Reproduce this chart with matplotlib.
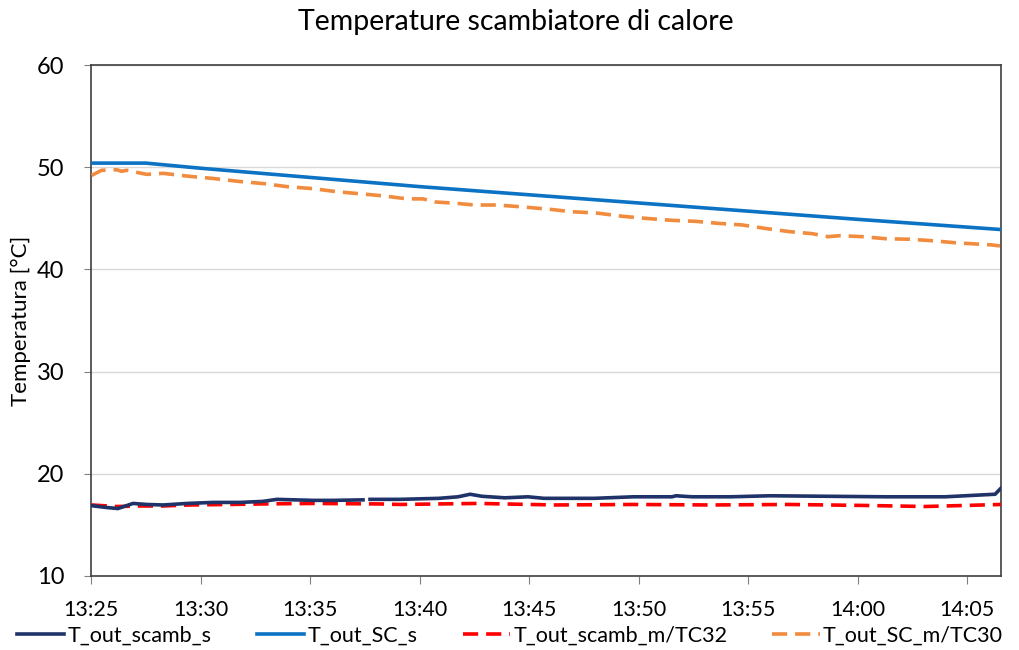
import matplotlib
matplotlib.use("Agg")
import matplotlib.pyplot as plt
import matplotlib.dates as mdates
import numpy as np
import pandas as pd

plt.rcParams['font.family'] = ['Lato', 'DejaVu Sans']

start_time = "2024-01-01 13:25:00"
x_end_min = 41.55

# elapsed minutes from 13:25 and temperatures [°C]
navy_min = [0.03, 0.72, 1.23, 1.92, 2.54, 3.29, 4.38, 5.57, 6.80, 7.85, 8.49, 10.14, 11.05, 12.42,
            12.56,
            12.74, 14.11, 15.89, 16.76, 17.31, 17.85, 18.90, 19.95, 20.68, 22.99, 24.77, 26.53,
            26.71, 27.44, 29.22, 31.0, 33.65, 36.30, 39.0, 41.28, 41.55]
navy_val = [16.88, 16.7, 16.6, 17.1, 17.0, 16.95, 17.1, 17.2, 17.2, 17.3, 17.5, 17.4, 17.4, 17.45,
            np.nan,
            17.5, 17.5, 17.6, 17.75, 18.0, 17.8, 17.65, 17.75, 17.6, 17.6, 17.75, 17.75,
            17.85, 17.75, 17.75, 17.85, 17.8, 17.75, 17.75, 18.0, 18.6]

blue_min = [0.0, 2.5, 5.0, 10.0, 15.0, 20.0, 25.0, 30.0, 35.0, 41.55]
blue_val = [50.4, 50.4, 49.9, 49.0, 48.1, 47.3, 46.5, 45.7, 44.9, 43.9]

red_min = [0.03, 1.17, 2.24, 3.29, 4.52, 6.35, 7.85, 10.14, 13.2, 14.11, 17.67, 21.23, 24.77,
           28.31, 31.87, 33.65, 35.43, 38.08, 39.86, 41.55]
red_val = [16.95, 16.8, 16.85, 16.85, 16.95, 17.0, 17.05, 17.1, 17.05, 17.0, 17.1, 16.95, 17.0,
           16.95, 17.0, 16.95, 16.9, 16.8, 16.9, 17.0]

orange_min = [0.03, 0.49, 1.17, 1.40, 1.63, 2.54, 3.29, 4.52, 5.57, 6.80, 7.85, 8.95, 10.14,
              11.23, 12.28, 13.33, 14.43, 15.16, 15.71, 16.76, 17.49, 18.54, 19.79, 20.87,
              21.92, 23.15, 24.25, 25.30, 26.53, 27.63, 28.68, 29.73, 30.82, 31.87, 32.92,
              33.65, 34.20, 35.25, 36.30, 37.40, 38.45, 39.50, 41.10, 41.5]
orange_val = [49.2, 49.7, 49.75, 49.6, 49.7, 49.3, 49.4, 49.1, 48.9, 48.6, 48.4, 48.1, 47.9,
              47.6, 47.4, 47.2, 46.9, 46.9, 46.6, 46.45, 46.3, 46.3, 46.1, 45.9,
              45.65, 45.5, 45.2, 45.0, 44.8, 44.7, 44.5, 44.35, 44.0, 43.7, 43.5,
              43.2, 43.3, 43.2, 43.0, 42.95, 42.8, 42.6, 42.4, 42.3]

series_names = ["T_out_scamb_s", "T_out_SC_s", "T_out_scamb_m/TC32", "T_out_SC_m/TC30"]
title = "Temperature scambiatore di calore"
ylabel = "Temperatura [°C]"

t0 = pd.Timestamp(start_time)
def to_t(mins):
    return [t0 + pd.Timedelta(minutes=m) for m in mins]

fig = plt.figure(figsize=(10.2, 6.5), dpi=100)
ax = fig.add_axes([91/1020, 74/650, 910/1020, 511/650])

lw = 2.6
ax.plot(to_t(navy_min), navy_val, color='#1F3368', lw=lw, label=series_names[0], zorder=4)
ax.plot(to_t(blue_min), blue_val, color='#0B72C4', lw=lw, label=series_names[1], zorder=4)
ax.plot(to_t(red_min), red_val, color='#FF0000', lw=lw, ls=(0, (4.2, 2.2)), label=series_names[2], zorder=3)
ax.plot(to_t(orange_min), orange_val, color='#F18B3E', lw=lw, ls=(0, (4.2, 2.2)), label=series_names[3], zorder=3)

ax.set_xlim(t0, t0 + pd.Timedelta(minutes=x_end_min))
ax.set_ylim(10, 60)
ax.set_yticks([10, 20, 30, 40, 50, 60])
ax.xaxis.set_major_locator(mdates.MinuteLocator(byminute=range(0, 60, 5)))
ax.xaxis.set_major_formatter(mdates.DateFormatter('%H:%M'))

ax.grid(axis='y', color='#D9D9D9', lw=1)
ax.set_axisbelow(True)
for s in ax.spines.values():
    s.set_color('#404040')
    s.set_linewidth(1.2)

ax.tick_params(axis='x', direction='out', length=6, color='#808080', pad=11, labelsize=15.5)
ax.tick_params(axis='y', direction='out', length=5, color='#808080', pad=14, labelsize=17)

fig.text(516/1020, 1 - 22/650, title, fontsize=20.5, ha='center', va='center')
ax.set_ylabel(ylabel, fontsize=16, labelpad=4)

fig.legend(loc='center', bbox_to_anchor=(0.5, 14/650), ncol=4, frameon=False,
           fontsize=15.5, handlelength=2.2, handletextpad=0.15, columnspacing=2.1)

fig.savefig('out.png', dpi=100)
